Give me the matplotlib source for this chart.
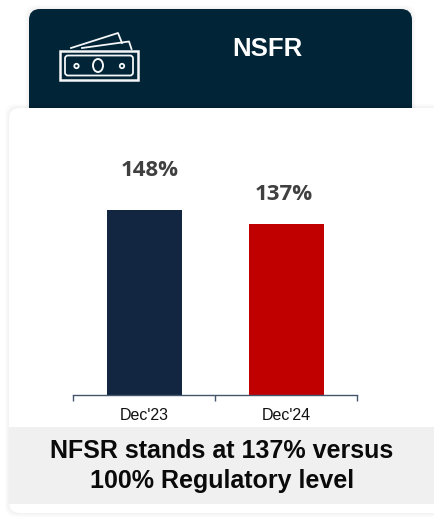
import matplotlib
matplotlib.use("Agg")
import matplotlib.pyplot as plt
from matplotlib.patches import FancyBboxPatch, Rectangle, Ellipse, Circle

categorias = ["Dec'23", "Dec'24"]
valores = [148, 137]
etiquetas = ["148%", "137%"]
colores = ["#122642", "#c00000"]

W, H = 435, 518
fig = plt.figure(figsize=(W / 100, H / 100), dpi=100, facecolor="white")

# capa de fondo en pixeles
bg = fig.add_axes([0, 0, 1, 1])
bg.set_xlim(0, W)
bg.set_ylim(H, 0)
bg.axis("off")

# sombra suave de la cabecera
for d in [4, 3, 2, 1]:
	bg.add_patch(FancyBboxPatch((29 - d, 9 - d), 383 + 2 * d, 110 + 2 * d, boxstyle="round,pad=0,rounding_size=11", fc="black", ec="none", alpha=0.012))
bg.add_patch(FancyBboxPatch((29, 9), 383, 110, boxstyle="round,pad=0,rounding_size=11", fc="#012436", ec="none"))

# tarjeta blanca
for d in [4, 3, 2, 1]:
	bg.add_patch(FancyBboxPatch((9 - d, 108 - d), 440, 405 + 2 * d, boxstyle="round,pad=0,rounding_size=11", fc="black", ec="none", alpha=0.012))
bg.add_patch(FancyBboxPatch((9, 108), 440, 405, boxstyle="round,pad=0,rounding_size=11", fc="white", ec="none"))
bg.add_patch(Rectangle((9, 427), 426, 77, fc="#f0f0f0", ec="none"))

# icono billetes
blanco = "#f4f6f7"
bg.add_patch(Rectangle((60, 50.5), 78, 29.5, fc="none", ec=blanco, lw=1.8))
bg.add_patch(FancyBboxPatch((65, 55.5), 68, 20, boxstyle="round,pad=0,rounding_size=3", fc="none", ec=blanco, lw=1.3))
bg.add_patch(Ellipse((98, 65.5), 10, 13, fc="none", ec=blanco, lw=1.4))
bg.add_patch(Circle((76.5, 66), 2.2, fc="none", ec=blanco, lw=1.3))
bg.add_patch(Circle((122, 66), 2.2, fc="none", ec=blanco, lw=1.3))
bg.plot([71, 118, 122], [48, 33, 43], color=blanco, lw=1.3)
bg.plot([82, 129, 131.5], [48, 41.5, 49], color=blanco, lw=1.3)

bg.text(267, 48.5, "NSFR", color="white", family="Liberation Sans", weight="bold", fontsize=18.5, ha="center", va="center")
bg.text(222, 451, "NFSR stands at 137% versus", color="#0a0a0a", family="Liberation Sans", weight="bold", fontsize=18, ha="center", va="center")
bg.text(222, 481, "100% Regulatory level", color="#0a0a0a", family="Liberation Sans", weight="bold", fontsize=18, ha="center", va="center")

# grafico de barras: base en y=395, eje de x=73 a x=357
alto = 250
ax = fig.add_axes([73 / W, (H - 395) / H, 284 / W, alto / H])
ax.patch.set_alpha(0)
x = [0, 1]
ax.bar(x, valores, width=75 / 142, color=colores)
ax.set_xlim(-0.5, 1.5)
ax.set_ylim(0, alto / 1.25)
ax.set_yticks([])
ax.set_xticks([-0.5, 0.5, 1.5])
ax.set_xticklabels([])
ax.set_xticks(x, minor=True)
ax.set_xticklabels(categorias, minor=True, family="Liberation Sans", fontsize=11.5, color="#111111")
ax.tick_params(axis="x", which="major", direction="out", length=4, width=1, color="#44546a")
ax.tick_params(axis="x", which="minor", length=0, pad=9)
for s in ["top", "left", "right"]:
	ax.spines[s].set_visible(False)
ax.spines["bottom"].set_color("#44546a")
ax.spines["bottom"].set_linewidth(1)

# separacion de cada etiqueta respecto a su barra, en pixeles
sep_x = [5.5, -2]
sep_y = [40, 29]
for i in x:
	ax.annotate(etiquetas[i], (i, valores[i]), xytext=(sep_x[i] * 0.72, sep_y[i] * 0.72), textcoords="offset points", color="#404040", family="Open Sans", weight="bold", fontsize=16, ha="center", va="center")

fig.savefig("out.png", dpi=100)
